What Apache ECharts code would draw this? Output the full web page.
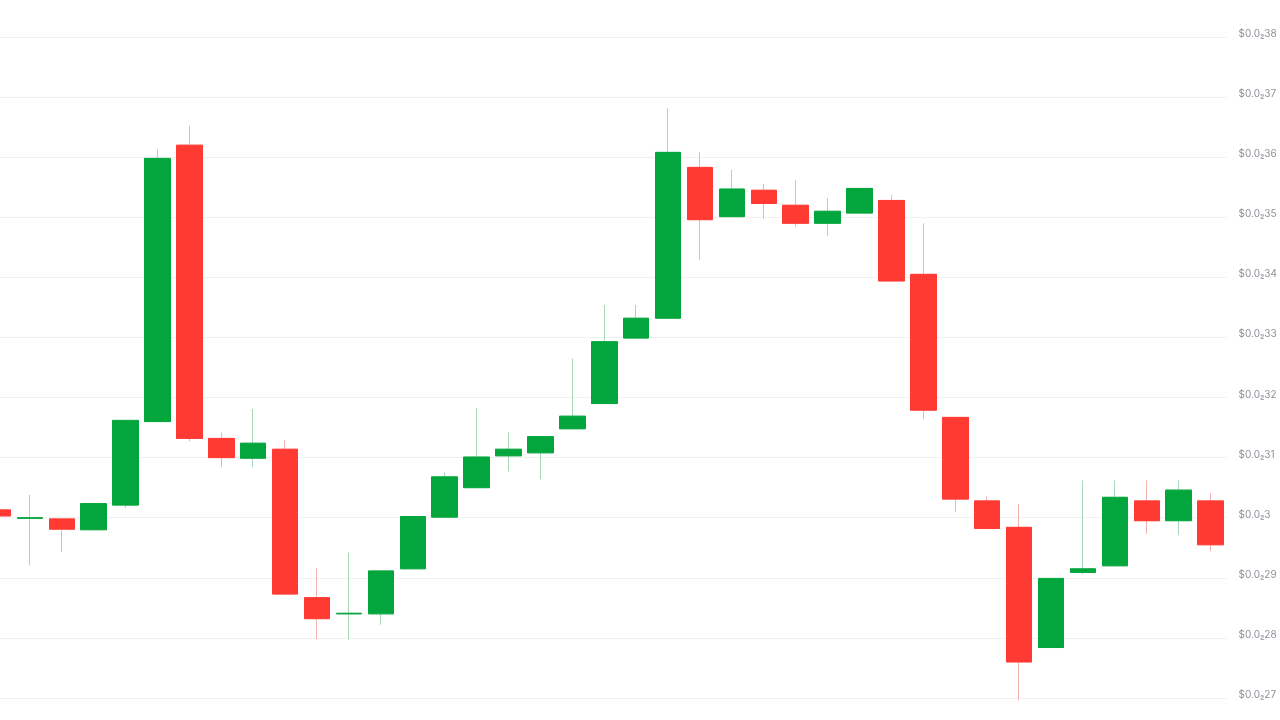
<!DOCTYPE html>
<html>
<head>
<meta charset="utf-8">
<script src="https://cdn.jsdelivr.net/npm/echarts@6/dist/echarts.min.js"></script>
<style>
html,body{margin:0;padding:0;background:#fff;overflow:hidden;}
#wrap{position:relative;width:1280px;height:720px;overflow:hidden;}
#chart{position:absolute;left:-18px;top:0;width:1298px;height:720px;}
</style>
</head>
<body>
<div id="wrap"><div id="chart"></div></div>
<script>
// Candle values (USD)
const categories = Array.from({length: 39}, (_, i) => 'P' + (i + 1));
const opens  = [0.003013,0.002999,0.002998,0.002980,0.003021,0.003160,0.003620,0.003132,0.003099,0.003114,
                0.002867,0.002840,0.002840,0.002915,0.003001,0.003050,0.003103,0.003108,0.003148,0.003190,
                0.003299,0.003332,0.003583,0.003501,0.003545,0.003520,0.003490,0.003507,0.003528,0.003405,
                0.003167,0.003028,0.002984,0.002784,0.002909,0.002920,0.003028,0.002995,0.003028];
const closes = [0.003003,0.003000,0.002981,0.0030235,0.003162,0.003598,0.003132,0.003100,0.003124,0.002873,
                0.002832,0.002841,0.0029115,0.003002,0.003068,0.003101,0.003114,0.003135,0.003169,0.003293,
                0.003332,0.003608,0.003496,0.003547,0.003523,0.003490,0.003510,0.003548,0.003394,0.003179,
                0.003031,0.002982,0.002760,0.002899,0.002915,0.003034,0.002995,0.003046,0.002955];
const lows   = [0.003000,0.002921,0.002943,0.002978,0.003016,0.003160,0.003127,0.003084,0.003084,0.002873,
                0.002798,0.002797,0.002822,0.002915,0.003001,0.003050,0.003077,0.003064,0.003148,0.003190,
                0.003299,0.003332,0.003429,0.003501,0.003498,0.003484,0.003469,0.003507,0.003394,0.003164,
                0.003010,0.002982,0.002696,0.002784,0.002906,0.002920,0.002973,0.002971,0.002944];
const highs  = [0.003015,0.003038,0.002998,0.003025,0.003162,0.003613,0.003652,0.003142,0.003181,0.003129,
                0.002916,0.002942,0.002912,0.003002,0.003075,0.003182,0.003142,0.003135,0.003265,0.003354,
                0.003354,0.003681,0.003608,0.003579,0.003555,0.003562,0.003532,0.003548,0.003537,0.003490,
                0.003167,0.003035,0.003023,0.002899,0.003062,0.003062,0.003062,0.003062,0.003041];

const yMin = 0.0027, yMax = 0.0038, yStep = 0.0001;

const wickData = categories.map((_, i) => [opens[i], closes[i], lows[i], highs[i]]);
const bodyData = categories.map((_, i) => [opens[i], closes[i],
  Math.min(opens[i], closes[i]), Math.max(opens[i], closes[i])]);

function fmt(v) {
  let s = String(Math.round(v * 10000));
  while (s.length > 1 && s.endsWith('0')) s = s.slice(0, -1);
  return '$0.0\u2082' + s;
}

const chart = echarts.init(document.getElementById('chart'));
chart.setOption({
  animation: false,
  backgroundColor: '#ffffff',
  grid: { left: 0, right: 50, top: 37, bottom: 22, containLabel: false },
  xAxis: {
    type: 'category',
    data: categories,
    boundaryGap: true,
    axisLine: { show: false },
    axisTick: { show: false },
    axisLabel: { show: false },
    splitLine: { show: false }
  },
  yAxis: {
    type: 'value',
    position: 'right',
    min: yMin, max: yMax, interval: yStep,
    axisLine: { show: false },
    axisTick: { show: false },
    splitLine: { show: true, lineStyle: { color: '#f1f1f1', width: 1 } },
    axisLabel: {
      formatter: fmt,
      color: '#8d9199',
      fontSize: 10,
      fontFamily: 'Inter, "Noto Sans", sans-serif',
      margin: 12,
      align: 'left',
      verticalAlign: 'bottom',
      lineHeight: 6
    }
  },
  series: [
    {
      type: 'candlestick',
      data: wickData,
      barWidth: 26,
      clip: false,
      z: 2,
      itemStyle: {
        color: '#ffffff', color0: '#ffffff',
        borderColor: '#a9d6b9', borderColor0: '#f6b0ac',
        borderWidth: 1
      }
    },
    {
      type: 'candlestick',
      data: bodyData,
      barWidth: 26,
      clip: false,
      z: 3,
      itemStyle: {
        color: '#03a63c', color0: '#ff3a33',
        borderColor: '#03a63c', borderColor0: '#ff3a33',
        borderWidth: 1
      }
    }
  ]
});
</script>
</body>
</html>
